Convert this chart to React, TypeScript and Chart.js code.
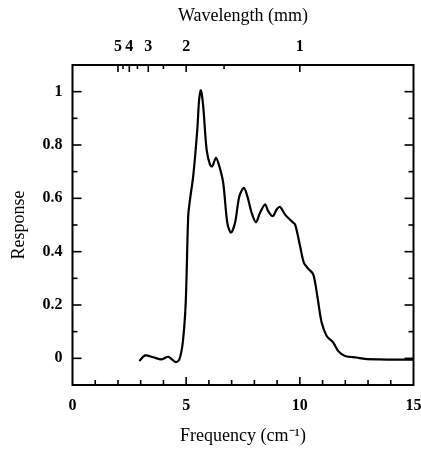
import React, { useEffect, useRef } from 'react';
import { Chart, registerables } from 'chart.js';

Chart.register(...registerables);

// Frequency (cm^-1) and detector response
const freq = [
  2.94, 3.19, 3.55, 3.92, 4.21, 4.4, 4.55, 4.7, 4.85, 4.98, 5.09, 5.17, 5.31, 5.49, 5.57, 5.65,
  5.75, 5.9, 6.05, 6.15, 6.31, 6.46, 6.63, 6.81, 6.97, 7.15, 7.34, 7.54, 7.69, 7.88, 8.07, 8.25,
  8.47, 8.61, 8.81, 8.98, 9.13, 9.35, 9.64, 9.79, 10.01, 10.18, 10.37, 10.59, 10.77, 10.96, 11.18,
  11.47, 11.69, 11.99, 12.5, 12.87, 13.5, 14.2, 15.0,
];
const response = [
  -0.01, 0.011, 0.004, -0.004, 0.006, -0.006, -0.014, -0.004, 0.059, 0.209, 0.533, 0.596, 0.683,
  0.858, 0.97, 1.005, 0.945, 0.783, 0.726, 0.72, 0.752, 0.72, 0.658, 0.508, 0.471, 0.508, 0.608,
  0.639, 0.608, 0.546, 0.51, 0.546, 0.577, 0.552, 0.533, 0.558, 0.568, 0.539, 0.514, 0.502, 0.421,
  0.358, 0.336, 0.315, 0.233, 0.134, 0.084, 0.059, 0.027, 0.009, 0.003, -0.002, -0.004, -0.005, -0.005,
];

// Top axis: wavelength in mm (frequency = 10 / wavelength)
const wavelengthMajor = [5, 4, 3, 2, 1];
const wavelengthMinor = [4.5, 3.5, 2.5, 1.5];

const FONT = "'Liberation Serif', 'Times New Roman', serif";

const inwardTicks = {
  id: 'inwardTicks',
  afterDraw(chart: any) {
    const { ctx, chartArea: a, scales } = chart;
    const seg = (x1: number, y1: number, x2: number, y2: number) => {
      ctx.beginPath();
      ctx.moveTo(x1, y1);
      ctx.lineTo(x2, y2);
      ctx.stroke();
    };
    ctx.save();
    ctx.strokeStyle = '#000';
    ctx.lineWidth = 1.6;
    const ys = scales.y;
    ys.ticks.forEach((t: any) => {
      const k = Math.round(t.value * 10);
      if (k <= -1 || k >= 11) return;
      const major = k % 2 === 0;
      const py = ys.getPixelForValue(t.value);
      const len = major ? 9 : 5;
      seg(a.left, py, a.left + len, py);
      seg(a.right, py, a.right - len, py);
    });
    const xs = scales.x;
    xs.ticks.forEach((t: any) => {
      const v = Math.round(t.value);
      if (v <= 0 || v >= 15) return;
      const major = v % 5 === 0;
      const px = xs.getPixelForValue(t.value);
      seg(px, a.bottom, px, a.bottom - (major ? 8 : 5));
    });
    const xt = scales.x2;
    xt.ticks.forEach((t: any) => {
      const l = 10 / t.value;
      const major = Math.abs(l - Math.round(l)) < 1e-6;
      const px = xt.getPixelForValue(t.value);
      seg(px, a.top, px, a.top + (major ? 7 : 4));
    });
    ctx.lineWidth = 2;
    ctx.strokeRect(a.left, a.top, a.right - a.left, a.bottom - a.top);
    ctx.restore();
  },
};

export default function App() {
  const ref = useRef<HTMLCanvasElement | null>(null);
  useEffect(() => {
    if (!ref.current) return;
    const chart = new Chart(ref.current, {
      type: 'line',
      data: {
        datasets: [
          {
            data: freq.map((x, i) => ({ x, y: response[i] })),
            borderColor: '#000',
            borderWidth: 2.2,
            pointRadius: 0,
            tension: 0.3,
            fill: false,
          },
        ],
      },
      options: {
        animation: false,
        responsive: false,
        devicePixelRatio: 1,
        layout: { padding: { left: 0, right: 7.5, top: 0, bottom: 0 } },
        plugins: { legend: { display: false }, tooltip: { enabled: false } },
        scales: {
          x: {
            type: 'linear',
            position: 'bottom',
            min: 0,
            max: 15,
            grid: { display: false, drawTicks: false },
            border: { display: false },
            afterFit: (s: any) => { s.height = 66; s.paddingLeft = 0; s.paddingRight = 0; },
            ticks: {
              stepSize: 1,
              autoSkip: false,
              maxRotation: 0,
              padding: 11,
              color: '#000',
              font: { family: FONT, size: 16, weight: 'bold' },
              callback: (v: any) => (Math.round(v) % 5 === 0 ? String(Math.round(v)) : ''),
            },
            title: {
              display: true,
              text: 'Frequency (cm⁻¹)',
              color: '#000',
              font: { family: FONT, size: 18 },
              padding: { top: 0, bottom: 4 },
            },
          },
          x2: {
            type: 'linear',
            position: 'top',
            min: 0,
            max: 15,
            grid: { display: false, drawTicks: false },
            border: { display: false },
            afterFit: (s: any) => { s.height = 65; s.paddingLeft = 0; s.paddingRight = 0; },
            afterBuildTicks: (s: any) => {
              s.ticks = [...wavelengthMajor, ...wavelengthMinor]
                .map((l) => ({ value: 10 / l }))
                .sort((p, q) => p.value - q.value);
            },
            ticks: {
              autoSkip: false,
              maxRotation: 0,
              padding: 9,
              color: '#000',
              font: { family: FONT, size: 16, weight: 'bold' },
              callback: (v: any) => {
                const l = 10 / v;
                const r = Math.round(l);
                return Math.abs(l - r) < 1e-6 ? String(r) : '';
              },
            },
            title: {
              display: true,
              text: 'Wavelength (mm)',
              color: '#000',
              font: { family: FONT, size: 18 },
              padding: { top: 5, bottom: 0 },
            },
          },
          y: {
            type: 'linear',
            position: 'left',
            min: -0.1,
            max: 1.1,
            grid: { display: false, drawTicks: false },
            border: { display: false },
            afterFit: (s: any) => { s.width = 72.5; s.paddingTop = 0; s.paddingBottom = 0; },
            ticks: {
              stepSize: 0.1,
              autoSkip: false,
              padding: 10,
              color: '#000',
              font: { family: FONT, size: 16, weight: 'bold' },
              callback: (v: any) => {
                const k = Math.round(v * 10);
                if (k < 0 || k > 10 || k % 2 !== 0) return '';
                return k === 10 ? '1' : k === 0 ? '0' : (k / 10).toString();
              },
            },
            title: {
              display: true,
              text: 'Response',
              color: '#000',
              font: { family: FONT, size: 18 },
              padding: { top: 8, bottom: 0 },
            },
          },
        },
      },
      plugins: [inwardTicks],
    } as any);
    return () => chart.destroy();
  }, []);
  return (
    <div style={{ position: 'absolute', left: 0, top: 0 }}>
      <canvas ref={ref} width={421} height={451} style={{ width: 421, height: 451, display: 'block' }} />
    </div>
  );
}
